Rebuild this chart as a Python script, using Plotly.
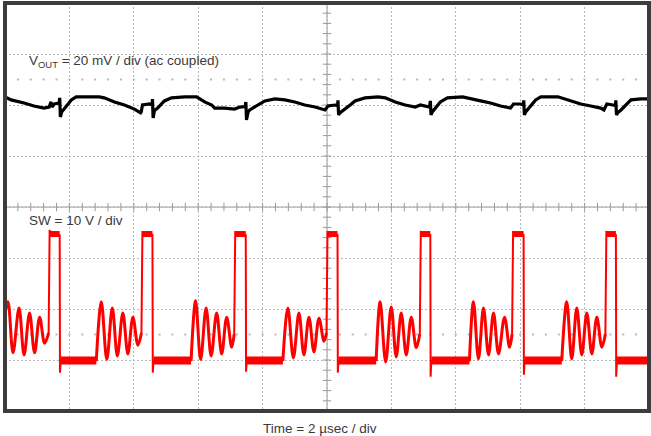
import plotly.graph_objects as go

# ---------------- data (read from the scope capture) ----------------
# Switch node (SW) trace: time in µs, voltage in V
sw_time_us = [
    0.000, 0.093, 0.249, 0.436, 0.592, 0.763, 0.919, 1.075, 1.231, 1.355, 1.371, 1.386,
    1.698, 1.707, 1.729, 2.835,
    2.991, 3.162, 3.333, 3.489, 3.660, 3.816, 3.972, 4.128, 4.237, 4.252, 4.268,
    4.579, 4.589, 4.611, 5.779,
    5.919, 6.075, 6.246, 6.402, 6.573, 6.729, 6.885, 7.040, 7.118, 7.134, 7.150,
    7.477, 7.486, 7.508, 8.629,
    8.785, 8.956, 9.128, 9.283, 9.439, 9.595, 9.751, 9.907, 9.984, 10.000, 10.016,
    10.327, 10.336, 10.358, 11.526,
    11.651, 11.822, 11.994, 12.150, 12.305, 12.461, 12.617, 12.773, 12.882, 12.897, 12.913,
    13.209, 13.218, 13.240, 14.424,
    14.548, 14.704, 14.860, 15.016, 15.171, 15.327, 15.514, 15.670, 15.748, 15.763, 15.779,
    16.106, 16.115, 16.137, 17.290,
    17.445, 17.601, 17.757, 17.913, 18.069, 18.224, 18.380, 18.536, 18.645, 18.660, 18.676,
    18.972, 18.981, 19.003, 20.000,
]
sw_volts = [
    9.0, 11.3, 1.3, 10.1, 0.9, 9.1, 1.3, 8.3, 3.2, 5.2, 14.2, 25.2,
    24.4, -2.6, -0.3, -0.3,
    11.3, 0.0, 10.1, 0.7, 9.1, 1.1, 8.3, 2.8, 5.2, 14.2, 25.0,
    24.4, -2.6, -0.3, -0.3,
    11.5, 0.0, 10.1, 0.7, 9.1, 1.1, 8.3, 2.4, 5.0, 14.2, 25.0,
    24.4, -2.4, -0.3, -0.3,
    10.1, 0.3, 9.1, 0.9, 8.3, 1.5, 8.1, 3.6, 5.2, 14.2, 25.0,
    24.4, -2.6, -0.3, -0.3,
    11.3, -0.5, 10.3, 0.5, 9.1, 0.9, 8.3, 2.3, 5.0, 14.2, 25.0,
    24.4, -3.4, -0.3, -0.3,
    11.3, 0.1, 10.1, 0.9, 9.1, 1.1, 8.3, 2.4, 5.0, 14.2, 25.0,
    24.4, -3.0, -0.3, -0.3,
    11.3, 0.1, 10.1, 0.9, 9.1, 1.1, 8.3, 2.4, 5.0, 14.2, 25.0,
    24.4, -3.4, -0.3, -0.3,
]
# noisy flat portions of SW (low after switch-off, high while on)
sw_low_start_us = [1.729, 4.611, 7.508, 10.358, 13.240, 16.137, 19.003]
sw_low_end_us = [2.835, 5.779, 8.629, 11.526, 14.424, 17.290, 20.000]
sw_low_level_v = -0.2
sw_high_start_us = [1.386, 4.268, 7.150, 10.016, 12.913, 15.779, 18.676]
sw_high_end_us = [1.698, 4.579, 7.477, 10.327, 13.209, 16.106, 18.972]
sw_high_level_v = 24.6

# Output ripple (ac coupled): time in µs, mV
vout_time_us = [
    0.00, 0.19, 0.59, 0.90, 1.21, 1.37, 1.43, 1.46, 1.53, 1.68, 1.70, 1.72, 1.76,
    2.06, 2.21, 2.62, 2.93, 3.08, 3.40, 3.71, 4.02, 4.21, 4.23, 4.27, 4.49, 4.57,
    4.58, 4.60, 4.64, 4.74, 4.95, 5.17, 5.58, 5.95, 6.20, 6.42, 6.51, 6.82, 7.13,
    7.29, 7.46, 7.48, 7.50, 7.55, 7.60, 7.85, 8.07, 8.38, 8.69, 9.00, 9.31, 9.63,
    9.94, 10.03, 10.25, 10.33, 10.34, 10.36, 10.40, 10.72, 10.87, 11.18, 11.59,
    11.81, 12.12, 12.43, 12.74, 12.90, 13.18, 13.21, 13.23, 13.27, 13.52, 13.74,
    14.21, 14.77, 15.08, 15.39, 15.70, 15.79, 16.01, 16.10, 16.11, 16.13, 16.17,
    16.48, 16.64, 17.17, 17.57, 17.88, 18.19, 18.50, 18.60, 18.69, 18.88, 18.96,
    18.97, 18.99, 19.02, 19.13, 19.44, 19.75, 20.00,
]
vout_mv = [
    2.4, 1.2, 0.0, -1.2, -2.0, -1.6, 0.4, -1.6, -0.4, 0.0, 2.0, -5.5, -3.5,
    1.2, 2.4, 2.4, 2.4, 2.0, 0.4, -0.8, -2.4, -3.9, -3.5, -0.8, -0.4, -0.8,
    1.5, -5.9, -3.0, -2.0, 0.8, 2.0, 2.4, 2.4, 0.4, -0.8, -2.0, -2.0, -2.4,
    -1.6, -1.4, 0.4, -6.7, -3.5, -2.75, -0.8, 0.8, 1.6, 1.2, 0.4, -0.8, -1.6,
    -2.75, -1.2, -0.8, -1.0, 1.0, -4.7, -3.9, -0.8, 0.8, 2.0, 2.4,
    2.0, 0.4, -0.8, -1.6, -0.8, -1.6, 0.8, -4.7, -3.5, 0.4, 2.0,
    2.4, 0.8, 0.0, -1.2, -2.0, -0.4, -0.4, -0.8, 1.0, -4.7, -3.5,
    1.2, 2.4, 2.4, 0.8, -0.4, -1.2, -2.0, -2.75, -0.4, -0.8, -1.0,
    1.0, -4.7, -4.0, -2.75, 1.2, 1.6, 1.6,
]

# ---------------- scope settings ----------------
SW_V_PER_DIV = 10.0
VOUT_MV_PER_DIV = 20.0
CH1_ZERO_DIV = 2.04    # Vout ground marker position (divisions)
CH2_ZERO_DIV = -2.99   # SW ground marker position (divisions)
TIME_US_PER_DIV = 2.0
N_HDIV, N_VDIV = 10, 8

vout_div = [CH1_ZERO_DIV + v / VOUT_MV_PER_DIV for v in vout_mv]
sw_div = [CH2_ZERO_DIV + v / SW_V_PER_DIV for v in sw_volts]

# split SW into ringing portions (smooth) and switching edges (straight)
ring_starts = [0] + [sw_time_us.index(t) for t in sw_low_end_us[:-1]]
rise_idx = [i - 2 for i, t in enumerate(sw_time_us) if t in sw_high_start_us]  # last ringing vertex
ring_x, ring_y, edge_x, edge_y = [], [], [], []
for a, b in zip(ring_starts, rise_idx):
    ring_x += sw_time_us[a:b + 1] + [None]
    ring_y += sw_div[a:b + 1] + [None]
next_ring = ring_starts[1:] + [len(sw_time_us) - 1]
for a, b in zip(rise_idx, next_ring):
    edge_x += sw_time_us[a:b + 1] + [None]
    edge_y += sw_div[a:b + 1] + [None]

def band(starts, ends, level):
    xs, ys = [], []
    y = CH2_ZERO_DIV + level / SW_V_PER_DIV
    for a, b in zip(starts, ends):
        xs += [a, b, None]
        ys += [y, y, None]
    return xs, ys

t_max = TIME_US_PER_DIV * N_HDIV
fig = go.Figure()

grid_col = "#b8b8b8"
axis_col = "#9a9a9a"

# minor ticks on the centre cross and half-division dot rows
minor_x = [i * TIME_US_PER_DIV / 5 for i in range(1, N_HDIV * 5)]
minor_y = [-N_VDIV / 2 + i * 0.2 for i in range(1, N_VDIV * 5)]
fig.add_trace(go.Scatter(x=minor_x, y=[0] * len(minor_x), mode="markers",
                         marker=dict(symbol="line-ns-open", size=6, color=axis_col,
                                     line=dict(width=1, color=axis_col)),
                         hoverinfo="skip", showlegend=False))
fig.add_trace(go.Scatter(x=[t_max / 2] * len(minor_y), y=minor_y, mode="markers",
                         marker=dict(symbol="line-ew-open", size=6, color=axis_col,
                                     line=dict(width=1, color=axis_col)),
                         hoverinfo="skip", showlegend=False))
fig.add_trace(go.Scatter(x=minor_x * 2, y=[2.5] * len(minor_x) + [-2.5] * len(minor_x), mode="markers",
                         marker=dict(symbol="square", size=2, color=grid_col, line=dict(width=0)),
                         hoverinfo="skip", showlegend=False))

# traces
fig.add_trace(go.Scatter(x=vout_time_us, y=vout_div, mode="lines",
                         line=dict(color="#000000", width=3.2), hoverinfo="skip", showlegend=False))
bx, by = band(sw_low_start_us, sw_low_end_us, sw_low_level_v)
fig.add_trace(go.Scatter(x=bx, y=by, mode="lines", line=dict(color="#ff0000", width=8),
                         hoverinfo="skip", showlegend=False))
hx, hy = band(sw_high_start_us, sw_high_end_us, sw_high_level_v)
fig.add_trace(go.Scatter(x=hx, y=hy, mode="lines", line=dict(color="#ff0000", width=6),
                         hoverinfo="skip", showlegend=False))
fig.add_trace(go.Scatter(x=edge_x, y=edge_y, mode="lines",
                         line=dict(color="#ff0000", width=2), hoverinfo="skip", showlegend=False))
fig.add_trace(go.Scatter(x=ring_x, y=ring_y, mode="lines",
                         line=dict(color="#ff0000", width=3, shape="spline", smoothing=1.0),
                         hoverinfo="skip", showlegend=False))

# channel ground markers on the left edge
fig.add_trace(go.Scatter(x=[-0.12, -0.12], y=[CH1_ZERO_DIV, CH2_ZERO_DIV], mode="markers",
                         marker=dict(symbol="triangle-right", size=5, color="#555555"),
                         cliponaxis=False, hoverinfo="skip", showlegend=False))

shapes = [
    dict(type="line", xref="x", yref="paper", x0=t_max / 2, x1=t_max / 2, y0=0, y1=1,
         line=dict(color=axis_col, width=1), layer="below"),
    dict(type="line", xref="paper", yref="y", x0=0, x1=1, y0=0, y1=0,
         line=dict(color=axis_col, width=1), layer="below"),
    dict(type="rect", xref="paper", yref="paper", x0=0, x1=1, y0=0, y1=1,
         line=dict(color="#3c3c3c", width=4), layer="above"),
]

font_main = dict(family="Liberation Sans, Arial, sans-serif", size=13.5, color="#3a3a3a")
annotations = [
    dict(text="V<sub>OUT</sub> = 20 mV / div (ac coupled)", xref="paper", yref="paper",
         x=0.034, y=0.856, xanchor="left", yanchor="middle", showarrow=False, font=font_main),
    dict(text="SW = 10 V / div", xref="paper", yref="paper",
         x=0.034, y=0.466, xanchor="left", yanchor="middle", showarrow=False, font=font_main),
    dict(text="Time = 2 µsec / div", xref="paper", yref="paper",
         x=0.489, y=-0.0417, xanchor="center", yanchor="middle", showarrow=False, font=font_main),
]

fig.update_layout(
    width=651, height=436,
    margin=dict(l=5, r=2, t=3, b=25, autoexpand=False),
    paper_bgcolor="white", plot_bgcolor="white",
    shapes=shapes, annotations=annotations,
    xaxis=dict(range=[0, t_max], dtick=TIME_US_PER_DIV, tick0=0, showgrid=True,
               gridcolor=grid_col, griddash="2px,2px", gridwidth=1,
               showticklabels=False, ticks="", zeroline=False, showline=False, fixedrange=True),
    yaxis=dict(range=[-N_VDIV / 2, N_VDIV / 2], dtick=1, tick0=0, showgrid=True,
               gridcolor=grid_col, griddash="2px,2px", gridwidth=1,
               showticklabels=False, ticks="", zeroline=False, showline=False, fixedrange=True),
)

fig.write_html("out.html")
